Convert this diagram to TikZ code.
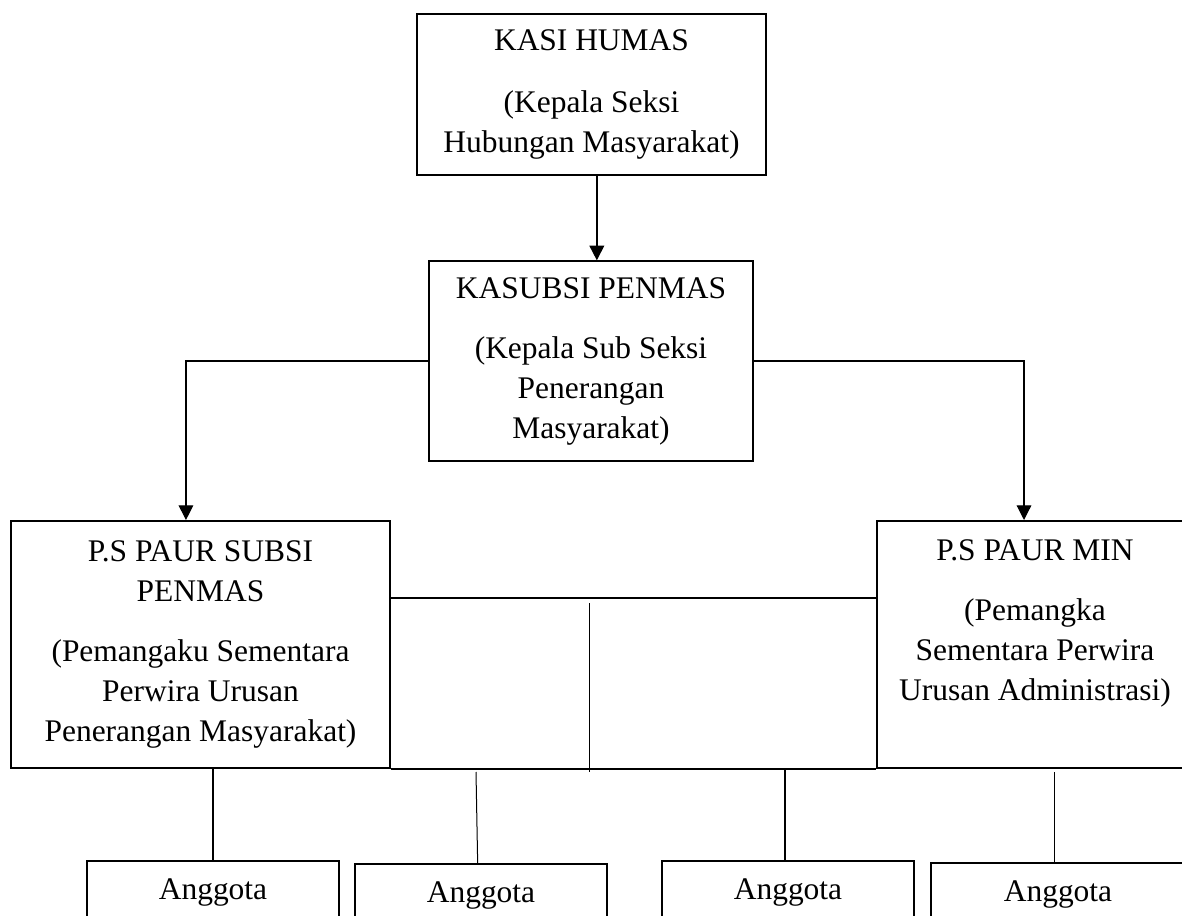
\documentclass[tikz,border=0pt]{standalone}
\usepackage{fontspec}
\setmainfont{Liberation Serif}
\usetikzlibrary{arrows.meta}
\tikzset{
  x=0.75pt, y=-0.75pt,
  txt/.style={font=\fontsize{23.6pt}{30pt}\selectfont, align=center, inner sep=0pt},
  topbox/.style={txt, draw, line width=1pt},
  midbox/.style={txt, draw, line width=1.5pt, minimum height={247*0.75pt}},
  memberbox/.style={txt, draw, line width=1.5pt, minimum width={252*0.75pt}, minimum height={64*0.75pt}},
  memberthin/.style={memberbox, line width=0.9pt},
  arr/.style={-{Triangle[length=11pt,width=11pt]}},
  thinline/.style={line width=0.75pt},
  thickline/.style={line width=1.5pt}
}
\begin{document}
\begin{tikzpicture}
\clip (0,0) rectangle (1182,916);
\fill[white] (0,0) rectangle (1182,916);

\node[topbox, minimum width={349*0.75pt}, minimum height={161*0.75pt}] (kasi) at (591.5,94.5)
  {KASI HUMAS\\[16pt](Kepala Seksi\\Hubungan Masyarakat)};
\node[topbox, minimum width={324*0.75pt}, minimum height={200*0.75pt}] (kasubsi) at (591,361)
  {KASUBSI PENMAS\\[15pt](Kepala Sub Seksi\\Penerangan\\Masyarakat)};
\node[midbox, minimum width={379*0.75pt}] (ps1) at (200.5,644.5)
  {P.S PAUR SUBSI\\PENMAS\\[15pt](Pemangaku Sementara\\Perwira Urusan\\Penerangan Masyarakat)};
\node[midbox, minimum width={316*0.75pt}, text depth=36pt] (ps2) at (1035,644.5)
  {P.S PAUR MIN\\[15pt](Pemangka\\Sementara Perwira\\Urusan Administrasi)};

\node[memberbox] (a1) at (213,893) {Anggota};
\node[memberthin] (a2) at (481,896) {Anggota};
\node[memberbox] (a3) at (788,893) {Anggota};
\node[memberthin, minimum width={254*0.75pt}] (a4) at (1058,895) {Anggota};

% arrows from the top
\draw[arr, line width=1.3pt] ([xshift=4pt]kasi.south) -- ([xshift=4pt]kasi.south |- kasubsi.north);
\draw[arr, line width=0.9pt] (kasubsi.west) -| ([xshift=-10.9pt]ps1.north);
\draw[arr, line width=0.9pt] (kasubsi.east) -| ([xshift=-8.25pt]ps2.north);

% middle frame between the two boxes
\coordinate (mline) at (0,598);
\draw[thickline] (ps1.east |- mline) -- (ps2.west |- mline);
\draw[thickline] (ps1.south east) -- (ps2.south west);
\coordinate (vt) at (589,603);
\coordinate (vb) at (589,772);
\draw[thinline] (vt) -- (vb);

% lines to members
\draw[thickline] (a1.north |- ps1.south) -- (a1.north);
\coordinate (c2) at (476,772);
\draw[thinline] (c2) -- ([xshift=-2.5pt]a2.north);
\draw[thickline] ([xshift=-2.25pt]a3.north |- ps2.south) -- ([xshift=-2.25pt]a3.north);
\coordinate (c4) at (1054,772);
\draw[thinline] (c4) -- (c4 |- a4.north);
\end{tikzpicture}
\end{document}
